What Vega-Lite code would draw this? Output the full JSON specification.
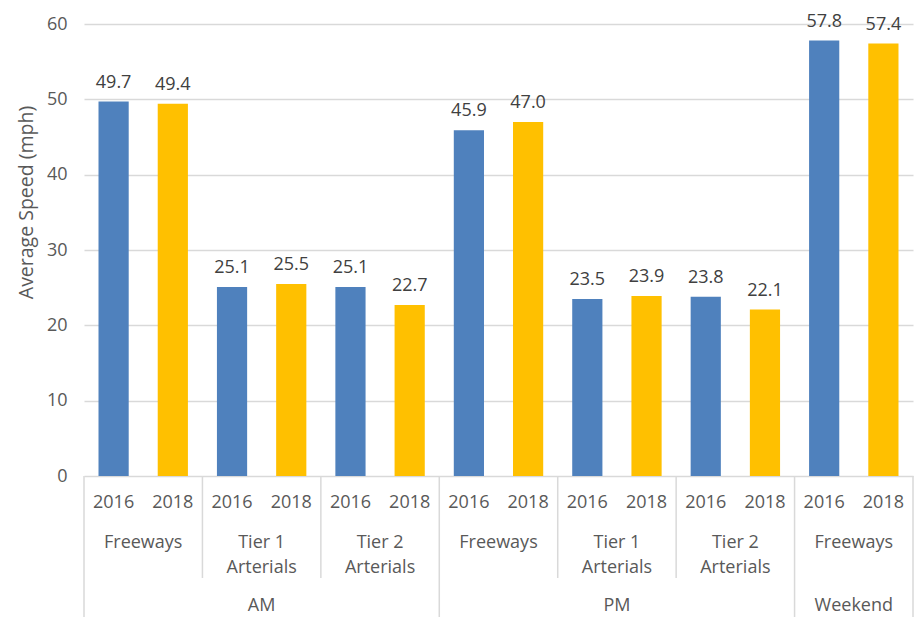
{
  "$schema": "https://vega.github.io/schema/vega-lite/v6.json",
  "background": "white",
  "padding": {"left": 16, "top": 12, "right": 5, "bottom": 0},
  "spacing": 0,
  "bounds": "flush",
  "config": {
    "view": {"stroke": null},
    "font": "Open Sans",
    "concat": {"spacing": 0}
  },
  "datasets": {
    "speeds": [
      {"period": "AM", "road": "Freeways", "group": "AM Freeways", "year": "2016", "speed": 49.7},
      {"period": "AM", "road": "Freeways", "group": "AM Freeways", "year": "2018", "speed": 49.4},
      {"period": "AM", "road": "Tier 1\nArterials", "group": "AM Tier 1", "year": "2016", "speed": 25.1},
      {"period": "AM", "road": "Tier 1\nArterials", "group": "AM Tier 1", "year": "2018", "speed": 25.5},
      {"period": "AM", "road": "Tier 2\nArterials", "group": "AM Tier 2", "year": "2016", "speed": 25.1},
      {"period": "AM", "road": "Tier 2\nArterials", "group": "AM Tier 2", "year": "2018", "speed": 22.7},
      {"period": "PM", "road": "Freeways", "group": "PM Freeways", "year": "2016", "speed": 45.9},
      {"period": "PM", "road": "Freeways", "group": "PM Freeways", "year": "2018", "speed": 47.0},
      {"period": "PM", "road": "Tier 1\nArterials", "group": "PM Tier 1", "year": "2016", "speed": 23.5},
      {"period": "PM", "road": "Tier 1\nArterials", "group": "PM Tier 1", "year": "2018", "speed": 23.9},
      {"period": "PM", "road": "Tier 2\nArterials", "group": "PM Tier 2", "year": "2016", "speed": 23.8},
      {"period": "PM", "road": "Tier 2\nArterials", "group": "PM Tier 2", "year": "2018", "speed": 22.1},
      {"period": "Weekend", "road": "Freeways", "group": "Weekend Freeways", "year": "2016", "speed": 57.8},
      {"period": "Weekend", "road": "Freeways", "group": "Weekend Freeways", "year": "2018", "speed": 57.4}
    ]
  },
  "vconcat": [
    {
      "width": 829,
      "height": 452,
      "data": {"name": "speeds"},
      "encoding": {
        "x": {
          "field": "group", "type": "nominal",
          "scale": {"domain": ["AM Freeways", "AM Tier 1", "AM Tier 2", "PM Freeways", "PM Tier 1", "PM Tier 2", "Weekend Freeways"], "paddingInner": 0, "paddingOuter": 0},
          "axis": null
        },
        "xOffset": {
          "field": "year", "type": "nominal",
          "scale": {"domain": ["2016", "2018"], "paddingInner": 0.49, "paddingOuter": 0.245}
        },
        "y": {
          "field": "speed", "type": "quantitative",
          "scale": {"domain": [0, 60], "nice": false},
          "axis": {
            "values": [0, 10, 20, 30, 40, 50, 60],
            "title": "Average Speed (mph)",
            "titleFontSize": 19.5, "titleFontWeight": "normal", "titleColor": "#595959",
            "titleX": -58, "titleY": 178, "titleAngle": -90, "titleAlign": "center", "titleBaseline": "middle",
            "labelFontSize": 18, "labelColor": "#595959", "labelPadding": 17,
            "domain": false, "ticks": false,
            "gridColor": "#d9d9d9", "gridWidth": 1.5
          }
        }
      },
      "layer": [
        {
          "mark": {"type": "bar"},
          "encoding": {
            "color": {"field": "year", "type": "nominal", "scale": {"domain": ["2016", "2018"], "range": ["#4f81bd", "#ffc000"]}, "legend": null}
          }
        },
        {
          "mark": {"type": "text", "baseline": "alphabetic", "dy": -14, "fontSize": 18, "color": "#404040"},
          "encoding": {"text": {"field": "speed", "type": "quantitative", "format": ".1f"}}
        },
        {
          "data": {"values": [{}]},
          "mark": {"type": "rule", "color": "#d9d9d9", "strokeWidth": 1.5},
          "encoding": {"y": {"datum": 0}}
        }
      ]
    },
    {
      "width": 829,
      "height": 102,
      "data": {"name": "speeds"},
      "layer": [
        {
          "mark": {"type": "text", "baseline": "middle", "dy": -24, "fontSize": 18, "color": "#595959"},
          "encoding": {
            "x": {"field": "group", "type": "nominal", "axis": null,
              "scale": {"domain": ["AM Freeways", "AM Tier 1", "AM Tier 2", "PM Freeways", "PM Tier 1", "PM Tier 2", "Weekend Freeways"], "paddingInner": 0, "paddingOuter": 0}},
            "xOffset": {"field": "year", "type": "nominal", "scale": {"domain": ["2016", "2018"], "paddingInner": 0.49, "paddingOuter": 0.245}},
            "text": {"field": "year", "type": "nominal"}
          }
        },
        {
          "transform": [{"filter": "datum.year == '2016'"}],
          "mark": {"type": "text", "baseline": "top", "dy": 6.5, "lineBreak": "\n", "lineHeight": 25, "fontSize": 18, "color": "#595959"},
          "encoding": {
            "x": {"field": "group", "type": "nominal", "axis": null,
              "scale": {"domain": ["AM Freeways", "AM Tier 1", "AM Tier 2", "PM Freeways", "PM Tier 1", "PM Tier 2", "Weekend Freeways"], "paddingInner": 0, "paddingOuter": 0}},
            "text": {"field": "road", "type": "nominal"}
          }
        },
        {
          "transform": [{"filter": "datum.year == '2016'"}],
          "mark": {"type": "rule", "color": "#d9d9d9", "strokeWidth": 1.5},
          "encoding": {
            "x": {"field": "group", "type": "nominal", "bandPosition": 0, "axis": null,
              "scale": {"domain": ["AM Freeways", "AM Tier 1", "AM Tier 2", "PM Freeways", "PM Tier 1", "PM Tier 2", "Weekend Freeways"], "paddingInner": 0, "paddingOuter": 0}}
          }
        },
        {
          "transform": [{"filter": "datum.year == '2016' && datum.group == 'Weekend Freeways'"}],
          "mark": {"type": "rule", "color": "#d9d9d9", "strokeWidth": 1.5},
          "encoding": {
            "x": {"field": "group", "type": "nominal", "bandPosition": 1, "axis": null,
              "scale": {"domain": ["AM Freeways", "AM Tier 1", "AM Tier 2", "PM Freeways", "PM Tier 1", "PM Tier 2", "Weekend Freeways"], "paddingInner": 0, "paddingOuter": 0}}
          }
        }
      ]
    },
    {
      "width": 829,
      "height": 39,
      "data": {"name": "speeds"},
      "layer": [
        {
          "transform": [{"filter": "datum.year == '2016' && (datum.group == 'AM Tier 1' || datum.group == 'PM Tier 1' || datum.group == 'Weekend Freeways')"}],
          "mark": {"type": "text", "baseline": "middle", "dy": 8, "fontSize": 18, "color": "#595959"},
          "encoding": {
            "x": {"field": "group", "type": "nominal", "axis": null,
              "scale": {"domain": ["AM Freeways", "AM Tier 1", "AM Tier 2", "PM Freeways", "PM Tier 1", "PM Tier 2", "Weekend Freeways"], "paddingInner": 0, "paddingOuter": 0}},
            "text": {"field": "period", "type": "nominal"}
          }
        },
        {
          "transform": [{"filter": "datum.year == '2016' && datum.road == 'Freeways'"}],
          "mark": {"type": "rule", "color": "#d9d9d9", "strokeWidth": 1.5},
          "encoding": {
            "x": {"field": "group", "type": "nominal", "bandPosition": 0, "axis": null,
              "scale": {"domain": ["AM Freeways", "AM Tier 1", "AM Tier 2", "PM Freeways", "PM Tier 1", "PM Tier 2", "Weekend Freeways"], "paddingInner": 0, "paddingOuter": 0}}
          }
        },
        {
          "transform": [{"filter": "datum.year == '2016' && datum.group == 'Weekend Freeways'"}],
          "mark": {"type": "rule", "color": "#d9d9d9", "strokeWidth": 1.5},
          "encoding": {
            "x": {"field": "group", "type": "nominal", "bandPosition": 1, "axis": null,
              "scale": {"domain": ["AM Freeways", "AM Tier 1", "AM Tier 2", "PM Freeways", "PM Tier 1", "PM Tier 2", "Weekend Freeways"], "paddingInner": 0, "paddingOuter": 0}}
          }
        }
      ]
    }
  ]
}
